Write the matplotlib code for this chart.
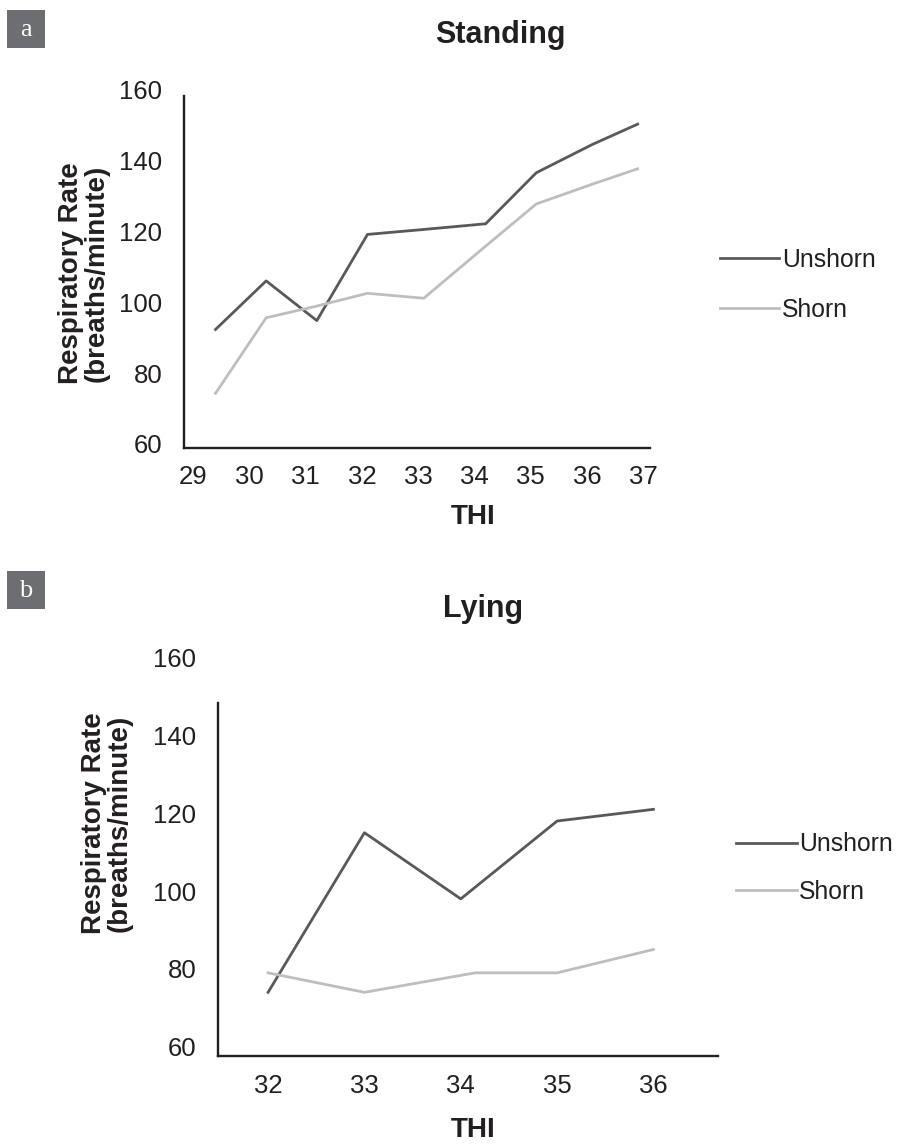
import matplotlib
matplotlib.use("Agg")
from matplotlib import pyplot as plt
from matplotlib.patches import Rectangle

plt.rcParams['font.family'] = ['Liberation Sans', 'DejaVu Sans']

# (a) standing - THI, rate in breaths/minute
stand_thi = [29.4, 30.3, 31.2, 32.1, 33.1, 34.2, 35.1, 36.1, 36.9]
stand_unshorn = [92.3, 106.0, 94.8, 119.1, 120.5, 122.1, 136.5, 144.5, 150.2]
stand_shorn = [74.3, 95.6, 98.9, 102.5, 101.1, 115.8, 127.7, 133.3, 137.6]
stand_ticks = [29, 30, 31, 32, 33, 34, 35, 36, 37]

# (b) lying
lying_thi_unshorn = [32.0, 33.0, 34.0, 35.0, 36.0]
lying_unshorn = [74, 115, 98, 118, 121]
lying_thi_shorn = [32.0, 33.0, 34.15, 35.0, 36.0]
lying_shorn = [79, 74, 79, 79, 85]
lying_ticks = [32, 33, 34, 35, 36]

y_ticks = [60, 80, 100, 120, 140, 160]

INK = '#231f20'
DARK = '#58595b'
LIGHT = '#bcbec0'
TAG = '#6d6e71'

W, H = 903, 1144  # figure size in pixels


def px_box(left, top, right, bottom):
    # pixel box -> figure fraction [l, b, w, h]
    return [left / W, 1 - bottom / H, (right - left) / W, (bottom - top) / H]


def draw_panel(ax, x_un, un, x_sh, sh, ticks, xlim, ylim, spine_top, xpad):
    ax.plot(x_un, un, color=DARK, lw=2.0, label='Unshorn')
    ax.plot(x_sh, sh, color=LIGHT, lw=2.0, label='Shorn')
    ax.set_xlim(xlim)
    ax.set_ylim(ylim)
    ax.set_xticks(ticks)
    ax.set_yticks(y_ticks)
    ax.tick_params(axis='both', length=0, labelsize=18.5, colors=INK)
    ax.tick_params(axis='y', pad=15.5)
    ax.tick_params(axis='x', pad=xpad)
    for s in ['top', 'right']:
        ax.spines[s].set_visible(False)
    for s in ['left', 'bottom']:
        ax.spines[s].set_linewidth(1.7)
        ax.spines[s].set_color(INK)
    ax.spines['left'].set_bounds(ylim[0], spine_top)


def panel_tag(fig, letter, top):
    fig.add_artist(Rectangle((7 / W, 1 - (top + 38) / H), 38 / W, 38 / H,
                             transform=fig.transFigure, color=TAG, lw=0))
    fig.text(26 / W, 1 - (top + 20) / H, letter, color='white', fontsize=19,
             family='Liberation Serif', ha='center', va='center')


def y_title(fig, x, y):
    fig.text(x / W, 1 - y / H, 'Respiratory Rate\n(breaths/minute)', fontsize=20,
             fontweight='bold', color=INK, ha='center', va='center', rotation=90,
             multialignment='center', linespacing=0.95)


fig = plt.figure(figsize=(W / 100, H / 100), dpi=100)

# ---- panel a
ax1 = fig.add_axes(px_box(184, 85, 650, 448))
draw_panel(ax1, stand_thi, stand_unshorn, stand_thi, stand_shorn, stand_ticks,
           (28.84, 37.12), (58.87, 161.24), 158.1, 12.5)
ax1.legend(loc='center left', bbox_to_anchor=(720 / W, 1 - 285 / H),
           bbox_transform=fig.transFigure, frameon=False, fontsize=17.8,
           handlelength=2.4, handletextpad=0.1, labelspacing=1.05,
           borderpad=0, borderaxespad=0, labelcolor=INK)
fig.text(500 / W, 1 - 43 / H, 'Standing', fontsize=22, fontweight='bold',
         color=INK, ha='center', va='baseline')
fig.text(473 / W, 1 - 517 / H, 'THI', fontsize=20, fontweight='bold',
         color=INK, ha='center', va='center')
y_title(fig, 84, 273)
panel_tag(fig, 'a', 10)

# ---- panel b
ax2 = fig.add_axes(px_box(218, 650, 718, 1056))
draw_panel(ax2, lying_thi_unshorn, lying_unshorn, lying_thi_shorn, lying_shorn,
           lying_ticks, (31.48, 36.67), (57.64, 161.93), 148.3, 13)
ax2.legend(loc='center left', bbox_to_anchor=(736 / W, 1 - 868 / H),
           bbox_transform=fig.transFigure, frameon=False, fontsize=17.8,
           handlelength=2.45, handletextpad=0.1, labelspacing=0.95,
           borderpad=0, borderaxespad=0, labelcolor=INK)
fig.text(483 / W, 1 - 617 / H, 'Lying', fontsize=22, fontweight='bold',
         color=INK, ha='center', va='baseline')
fig.text(473 / W, 1 - 1130 / H, 'THI', fontsize=20, fontweight='bold',
         color=INK, ha='center', va='center')
y_title(fig, 107, 823)
panel_tag(fig, 'b', 571)

fig.savefig('out.png', dpi=100)
